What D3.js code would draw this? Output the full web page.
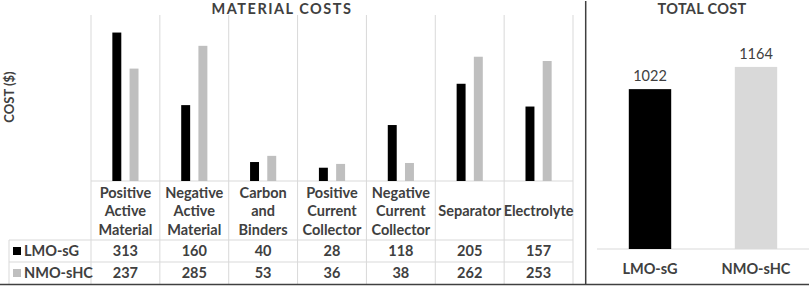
<!DOCTYPE html>
<html>
<head>
<meta charset="utf-8">
<script src="https://cdn.jsdelivr.net/npm/d3@7"></script>
<style>
    body { margin: 0; background: #fff; }
    svg { display: block; font-family: Lato, 'Open Sans', sans-serif; }
    .lbl { fill: #404040; font-weight: 700; font-size: 14.5px; }
    .title { fill: #404040; font-weight: 700; font-size: 14.5px; letter-spacing: 1.5px; }
    .grid { stroke: #d9d9d9; stroke-width: 1; }
</style>
</head>
<body>
<svg id="chart"></svg>
<script>
// data
const categories = ['Positive Active Material', 'Negative Active Material', 'Carbon and Binders',
    'Positive Current Collector', 'Negative Current Collector', 'Separator', 'Electrolyte'];
const categoryLines = [['Positive', 'Active', 'Material'], ['Negative', 'Active', 'Material'],
    ['Carbon', 'and', 'Binders'], ['Positive', 'Current', 'Collector'],
    ['Negative', 'Current', 'Collector'], ['Separator'], ['Electrolyte']];
const seriesNames = ['LMO-sG', 'NMO-sHC'];
const lmoCosts = [313, 160, 40, 28, 118, 205, 157];
const nmoCosts = [237, 285, 53, 36, 38, 262, 253];
const totalCosts = [1022, 1164];

const W = 809, H = 287;
const colors = {'LMO-sG': '#000000', 'NMO-sHC': '#bfbfbf'};
const totalColors = {'LMO-sG': '#000000', 'NMO-sHC': '#d9d9d9'};

const svg = d3.select('#chart').attr('width', W).attr('height', H);

// ---------- material costs panel ----------
const tbl = {left: 9, colLeft: 91, colRight: 573, top: 15, base: 181, head: 240, row1: 262, bottom: 284};

const x = d3.scaleBand().domain(categories).range([tbl.colLeft, tbl.colRight]);
const xSub = d3.scaleBand().domain(seriesNames)
    .range([x.bandwidth() * 0.31, x.bandwidth() * 0.69])
    .paddingInner(0.48);
const y = d3.scaleLinear().domain([0, 350]).range([tbl.base, tbl.top]);

const rows = categories.map((c, i) => ({cat: c, lines: categoryLines[i], vals: [lmoCosts[i], nmoCosts[i]]}));

// grid of the data table
const bounds = categories.map(c => x(c)).concat([tbl.colRight]);
svg.append('g').selectAll('line')
    .data(bounds)
    .join('line')
    .attr('class', 'grid')
    .attr('x1', d => d).attr('x2', d => d)
    .attr('y1', tbl.top).attr('y2', tbl.bottom);

svg.append('line').attr('class', 'grid')
    .attr('x1', tbl.left).attr('x2', tbl.left).attr('y1', tbl.head).attr('y2', tbl.bottom);
svg.append('line').attr('class', 'grid')
    .attr('x1', tbl.colLeft).attr('x2', tbl.colRight).attr('y1', tbl.base).attr('y2', tbl.base);
[tbl.head, tbl.row1].forEach(yy => {
    svg.append('line').attr('class', 'grid')
        .attr('x1', tbl.left).attr('x2', tbl.colRight).attr('y1', yy).attr('y2', yy);
});

// bars
const groups = svg.append('g').selectAll('g')
    .data(rows)
    .join('g')
    .attr('transform', d => `translate(${x(d.cat)},0)`);

groups.selectAll('rect')
    .data(d => d.vals.map((v, i) => ({s: seriesNames[i], v: v})))
    .join('rect')
    .attr('x', d => xSub(d.s))
    .attr('width', xSub.bandwidth())
    .attr('y', d => y(d.v))
    .attr('height', d => y(0) - y(d.v))
    .attr('fill', d => colors[d.s]);

// category labels
groups.append('text')
    .attr('class', 'lbl')
    .attr('text-anchor', 'middle')
    .selectAll('tspan')
    .data(d => d.lines.map((l, i) => ({l: l, i: i, n: d.lines.length})))
    .join('tspan')
    .attr('x', x.bandwidth() / 2)
    .attr('y', d => 211 + (d.i - (d.n - 1) / 2) * 18.5)
    .attr('dy', '0.35em')
    .text(d => d.l);

// table values
const rowY = [251, 273];
seriesNames.forEach((s, si) => {
    groups.append('text')
        .attr('class', 'lbl')
        .attr('text-anchor', 'middle')
        .attr('x', x.bandwidth() / 2)
        .attr('y', rowY[si])
        .attr('dy', '0.35em')
        .text(d => d.vals[si]);

    svg.append('rect')
        .attr('x', 13).attr('y', rowY[si] - 4)
        .attr('width', 8).attr('height', 8)
        .attr('fill', colors[s]);
    svg.append('text')
        .attr('class', 'lbl')
        .attr('x', 24).attr('y', rowY[si])
        .attr('dy', '0.35em')
        .text(s);
});

svg.append('text')
    .attr('class', 'title')
    .attr('text-anchor', 'middle')
    .attr('x', 282).attr('y', 14)
    .text('MATERIAL COSTS');

svg.append('text')
    .attr('class', 'lbl')
    .style('font-size', '13px')
    .attr('text-anchor', 'middle')
    .attr('transform', 'translate(9,97) rotate(-90)')
    .attr('dy', '0.35em')
    .text('COST ($)');

// ---------- total cost panel ----------
const xT = d3.scaleBand().domain(seriesNames).range([597, W]).paddingInner(0.6).paddingOuter(0.3);
const yT = d3.scaleLinear().domain([0, 1400]).range([249, 30]);

svg.append('line').attr('class', 'grid')
    .attr('x1', 597).attr('x2', W).attr('y1', yT(0)).attr('y2', yT(0));

const totals = seriesNames.map((s, i) => ({s: s, v: totalCosts[i]}));

svg.append('g').selectAll('rect')
    .data(totals)
    .join('rect')
    .attr('x', d => xT(d.s))
    .attr('width', xT.bandwidth())
    .attr('y', d => yT(d.v))
    .attr('height', d => yT(0) - yT(d.v))
    .attr('fill', d => totalColors[d.s]);

svg.append('g').selectAll('text')
    .data(totals)
    .join('text')
    .attr('text-anchor', 'middle')
    .attr('x', d => xT(d.s) + xT.bandwidth() / 2)
    .attr('y', d => yT(d.v) - 8)
    .style('fill', '#404040')
    .style('font-size', '14.5px')
    .text(d => d.v);

svg.append('g').selectAll('text')
    .data(totals)
    .join('text')
    .attr('class', 'lbl')
    .attr('text-anchor', 'middle')
    .attr('x', d => xT(d.s) + xT.bandwidth() / 2)
    .attr('y', 269)
    .attr('dy', '0.35em')
    .text(d => d.s);

svg.append('text')
    .attr('class', 'title')
    .style('letter-spacing', '0.3px')
    .attr('text-anchor', 'middle')
    .attr('x', 702).attr('y', 14)
    .text('TOTAL COST');

// frame lines
svg.append('line')
    .attr('x1', 585.7).attr('x2', 585.7).attr('y1', 1).attr('y2', tbl.bottom)
    .attr('stroke', '#404040').attr('stroke-width', 1.5);
svg.append('line')
    .attr('x1', 0).attr('x2', W).attr('y1', tbl.bottom + 0.5).attr('y2', tbl.bottom + 0.5)
    .attr('stroke', '#404040').attr('stroke-width', 1.5);
</script>
</body>
</html>
